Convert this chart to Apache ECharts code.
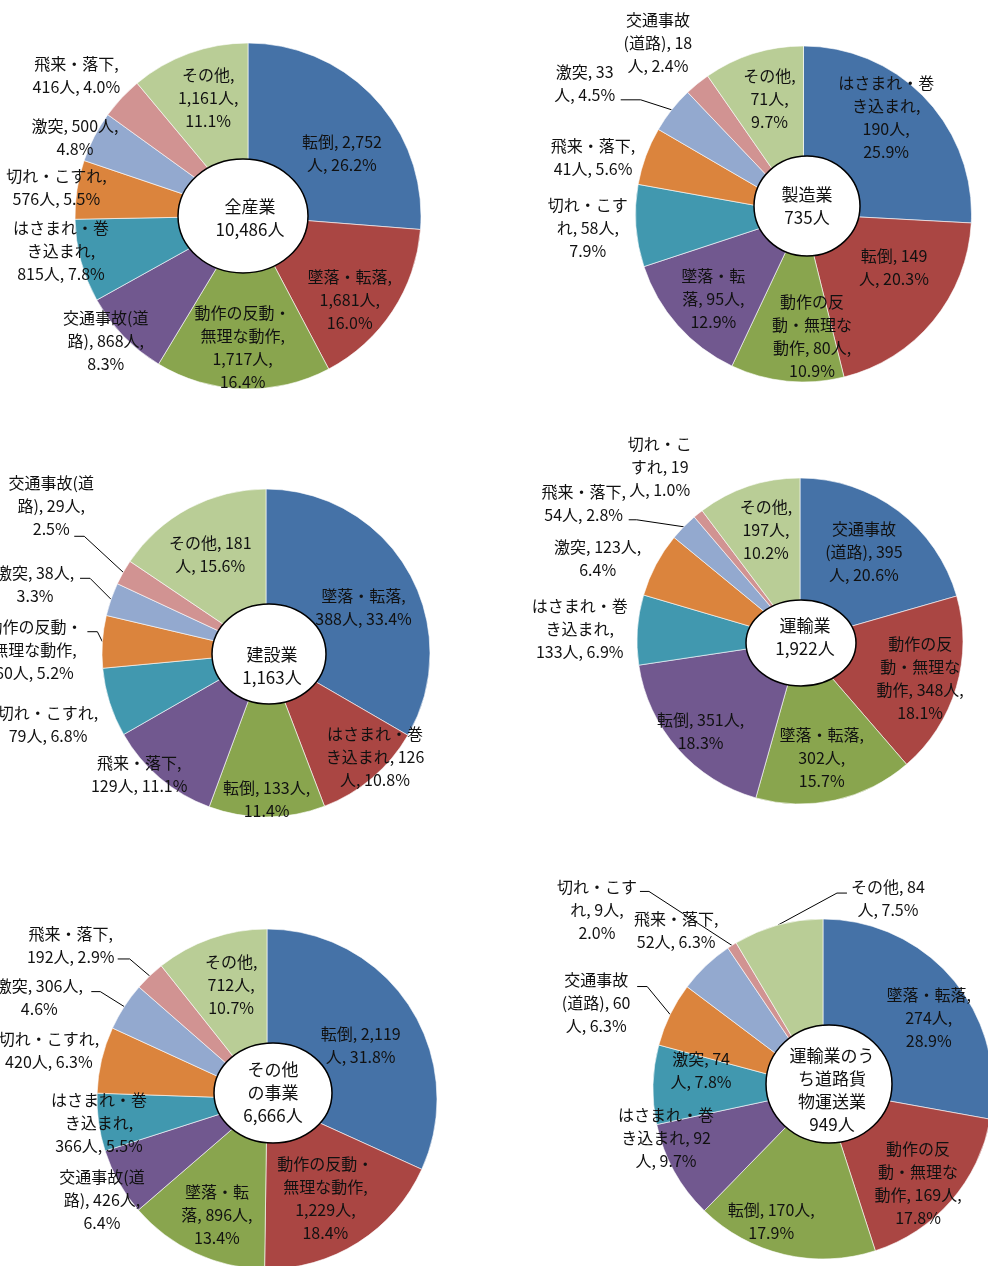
<!DOCTYPE html>
<html>
<head>
<meta charset="utf-8">
<script src="https://cdn.jsdelivr.net/npm/echarts@6/dist/echarts.min.js"></script>
<style>
  html, body { margin: 0; padding: 0; background: #fff; }
  #main { width: 988px; height: 1266px; }
</style>
</head>
<body>
<div id="main"></div>
<script>
// ---- data ----
var industries = ['全産業', '製造業', '建設業', '運輸業', 'その他の事業', '運輸業のうち道路貨物運送業'];
var totals = [10486, 735, 1163, 1922, 6666, 949];

var names1 = ['転倒', '墜落・転落', '動作の反動・無理な動作', '交通事故(道路)', 'はさまれ・巻き込まれ', '切れ・こすれ', '激突', '飛来・落下', 'その他'];
var values1 = [2752, 1681, 1717, 868, 815, 576, 500, 416, 1161];
var pcts1 = [26.2, 16.0, 16.4, 8.3, 7.8, 5.5, 4.8, 4.0, 11.1];

var names2 = ['はさまれ・巻き込まれ', '転倒', '動作の反動・無理な動作', '墜落・転落', '切れ・こすれ', '飛来・落下', '激突', '交通事故(道路)', 'その他'];
var values2 = [190, 149, 80, 95, 58, 41, 33, 18, 71];
var pcts2 = [25.9, 20.3, 10.9, 12.9, 7.9, 5.6, 4.5, 2.4, 9.7];

var names3 = ['墜落・転落', 'はさまれ・巻き込まれ', '転倒', '飛来・落下', '切れ・こすれ', '動作の反動・無理な動作', '激突', '交通事故(道路)', 'その他'];
var values3 = [388, 126, 133, 129, 79, 60, 38, 29, 181];
var pcts3 = [33.4, 10.8, 11.4, 11.1, 6.8, 5.2, 3.3, 2.5, 15.6];

var names4 = ['交通事故(道路)', '動作の反動・無理な動作', '墜落・転落', '転倒', 'はさまれ・巻き込まれ', '激突', '飛来・落下', '切れ・こすれ', 'その他'];
var values4 = [395, 348, 302, 351, 133, 123, 54, 19, 197];
var pcts4 = [20.6, 18.1, 15.7, 18.3, 6.9, 6.4, 2.8, 1.0, 10.2];

var names5 = ['転倒', '動作の反動・無理な動作', '墜落・転落', '交通事故(道路)', 'はさまれ・巻き込まれ', '切れ・こすれ', '激突', '飛来・落下', 'その他'];
var values5 = [2119, 1229, 896, 426, 366, 420, 306, 192, 712];
var pcts5 = [31.8, 18.4, 13.4, 6.4, 5.5, 6.3, 4.6, 2.9, 10.7];

var names6 = ['墜落・転落', '動作の反動・無理な動作', '転倒', 'はさまれ・巻き込まれ', '激突', '交通事故(道路)', '飛来・落下', '切れ・こすれ', 'その他'];
var values6 = [274, 169, 170, 92, 74, 60, 52, 9, 84];
var pcts6 = [28.9, 17.8, 17.9, 9.7, 7.8, 6.3, 6.3, 2.0, 7.5];

var allNames = [names1, names2, names3, names4, names5, names6];
var allValues = [values1, values2, values3, values4, values5, values6];
var allPcts = [pcts1, pcts2, pcts3, pcts4, pcts5, pcts6];

// ---- layout / style ----
var FONT = "'Noto Sans CJK JP', 'Noto Sans CJK SC', sans-serif";
var COLORS = ['#4572A7', '#AA4643', '#89A54E', '#71588F', '#4198AF', '#DB843D', '#93A9CF', '#D19392', '#B9CD96'];

var pies = [
    {center: [248, 216], radius: [55, 173]},
    {center: [803.5, 214], radius: [40, 168]},
    {center: [266, 653], radius: [46, 164]},
    {center: [800, 641], radius: [40, 163]},
    {center: [267, 1099], radius: [42, 170]},
    {center: [823, 1089], radius: [50, 170]}
];
// white hole in the middle: cx, cy, rx, ry
var holes = [[243, 216, 65, 57], [807, 206, 53, 50], [269, 654, 57, 50], [801, 643, 55, 43], [273, 1093, 59, 50], [829, 1084, 63, 59]];
var holeText = [[250, 218], [807, 206], [272, 666], [805, 637], [273, 1093], [832, 1090]];
var holeWrap = [[], [], [], [], [3], [5, 4]];

// characters per wrapped line of each data label
var wraps = [
    [[9], [6, 7], [6, 6, 7], [6, 9], [6, 5], [7], [9], [6], [4, 7]],
    [[6, 5, 5], [7], [4, 5, 8], [4, 7], [5, 7], [6], [6], [4, 8], [4, 4]],
    [[6], [6, 9], [9], [6], [7], [6, 6], [8], [6, 8], [8]],
    [[4, 9], [4, 5, 9], [6, 5], [9], [6, 5], [9], [6], [4, 6], [4, 5]],
    [[9], [6, 6, 7], [4, 8], [6, 9], [6, 5], [7], [9], [6], [4, 5]],
    [[6, 5], [4, 5, 9], [9], [6, 8], [6], [4, 8], [6], [5, 6], [7]]
];
// shift of the label from its default inside spot
var shifts = [
    [[8, 17], [4, 20], [-2, 14], [-58, 44], [-74, 4], [-76, -11], [-69, -25], [-86, -61], [0, -8]],
    [[5, -23], [8, -15], [19, 16], [-10, 14], [-109, 6], [-110, -20], null, [-78, -88], [-2, -13]],
    [[4, 8], [39, 22], [0, 38], [-57, 39], [-115, 39], null, null, null, [-5, -3]],
    [[1, -6], [20, 8], [-1, 15], [-21, 21], [-116, -5], [-110, -34], null, [-75, -92], [-1, -12]],
    [[2, 5], [0, 7], [-4, 17], [-70, 48], [-60, 9], [-112, -23], null, null, [0, -11]],
    [[19, 1], [10, 20], [-26, 22], [-58, -6], [-9, -16], null, [-69, -77], null, null]
];
// labels with a leader line: offset from the slice edge, line attach point, horizontal stub
var leaders = [
    {},
    {6: [-87, -26, 36, 16, 20]},
    {5: [-68, 8, 53, -18, 10], 6: [-76, -15, 45, -6, 10], 7: [-72, -66, 23, 30, 10]},
    {6: [-100, -23, 45, 16, 8]},
    {6: [-85, -9, 52, -6, 9], 7: [-79, -31, 47, 14, 12]},
    {5: [-74, -12, 41, -16, 10], 7: [-135, -36, 43, -18, 9], 8: [110, -27, -41, -5, -10]}
];

function fmt(v) {
    return String(v).replace(/\B(?=(\d{3})+(?!\d))/g, ',');
}
function wrap(str, lens) {
    var out = [], i = 0;
    for (var k = 0; k < lens.length; k++) {
        out.push(str.slice(i, i + lens[k]));
        i += lens[k];
        while (str.charAt(i) === ' ') i++;
    }
    out.push(str.slice(i));
    return out.join('\n');
}

var myChart = echarts.init(document.getElementById('main'));

var series = [];
var graphics = [];
for (var s = 0; s < 6; s++) {
    (function (s) {
        var data = allNames[s].map(function (n, i) {
            var item = {name: n, value: allValues[s][i], itemStyle: {color: COLORS[i]}};
            if (leaders[s][i]) {
                item.label = {position: 'outside'};
                item.labelLine = {show: true};
            }
            return item;
        });
        series.push({
            type: 'pie',
            center: pies[s].center,
            radius: pies[s].radius,
            startAngle: 90,
            clockwise: true,
            avoidLabelOverlap: false,
            silent: true,
            data: data,
            itemStyle: {borderColor: '#fff', borderWidth: 0.6},
            label: {
                show: true,
                position: 'inside',
                color: '#111',
                fontFamily: FONT,
                fontSize: 16,
                lineHeight: 23,
                formatter: function (p) {
                    var i = p.dataIndex;
                    var t = p.name + ', ' + fmt(p.value) + '人, ' + allPcts[s][i].toFixed(1) + '%';
                    return wrap(t, wraps[s][i]);
                }
            },
            labelLine: {show: false, lineStyle: {color: '#000', width: 1}},
            labelLayout: function (p) {
                var i = p.dataIndex;
                var ld = leaders[s][i];
                if (ld && p.labelLinePoints) {
                    var p0 = p.labelLinePoints[0];
                    var lx = p0[0] + ld[0], ly = p0[1] + ld[1];
                    var p2 = [lx + ld[2], ly + ld[3]];
                    var p1 = [p2[0] + ld[4], p2[1]];
                    return {x: lx, y: ly, align: 'center', verticalAlign: 'middle',
                        labelLinePoints: [[p0[0], p0[1]], p1, p2]};
                }
                var r = p.labelRect;
                var sh = shifts[s][i] || [0, 0];
                return {x: r.x + r.width / 2 + sh[0], y: r.y + r.height / 2 + sh[1],
                    align: 'center', verticalAlign: 'middle'};
            }
        });
        var h = holes[s];
        graphics.push({
            type: 'ellipse',
            shape: {cx: h[0], cy: h[1], rx: h[2], ry: h[3]},
            style: {fill: '#fff', stroke: '#000', lineWidth: 1.5},
            z: 100
        });
        graphics.push({
            type: 'text',
            x: holeText[s][0],
            y: holeText[s][1],
            z: 101,
            style: {
                text: wrap(industries[s], holeWrap[s]) + '\n' + fmt(totals[s]) + '人',
                font: '17px ' + FONT,
                lineHeight: 23,
                fill: '#111',
                textAlign: 'center',
                textVerticalAlign: 'middle'
            }
        });
    })(s);
}

var option = {
    animation: false,
    backgroundColor: '#fff',
    series: series,
    graphic: graphics
};

myChart.setOption(option);
</script>
</body>
</html>
